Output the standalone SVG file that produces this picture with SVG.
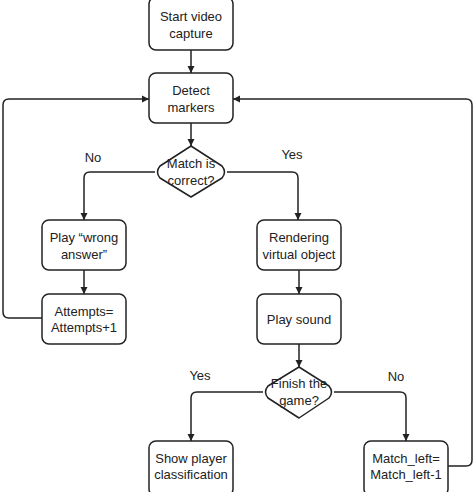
<svg xmlns="http://www.w3.org/2000/svg" width="474" height="492" viewBox="0 0 474 492">
<defs>
<marker id="ah" markerWidth="8" markerHeight="8" refX="7" refY="4" orient="auto" markerUnits="userSpaceOnUse">
<path d="M0,0.5 L7,4 L0,7.5 Z" fill="#222"/>
</marker>
<style>
.box{fill:#fff;stroke:#222;stroke-width:1.5}
.t{font-family:"Liberation Sans",Arial,sans-serif;font-size:13px;fill:#222;text-anchor:middle}
.c{fill:none;stroke:#222;stroke-width:1.5;marker-end:url(#ah)}
.cn{fill:none;stroke:#222;stroke-width:1.5}
</style>
</defs>
<rect width="474" height="492" fill="#fff"/>
<g id="connectors">
<path class="c" d="M191,50 V73"/>
<path class="c" d="M191,123 V146"/>
<path class="c" d="M155,172 H90 Q84,172 84,178 V220"/>
<path class="c" d="M227,172 H292 Q298,172 298,178 V220"/>
<path class="c" d="M84,270 V294"/>
<path class="c" d="M299,270 V294"/>
<path class="c" d="M299,344 V367"/>
<path class="c" d="M263,392 H197 Q191,392 191,398 V441"/>
<path class="c" d="M334,392 H400 Q406,392 406,398 V441"/>
<path class="c" d="M42,318 H9 Q3,318 3,312 V105 Q3,99 9,99 H149"/>
<path class="c" d="M448,466 H466 Q472,466 472,460 V105 Q472,99 466,99 H233"/>
</g>
<g id="lbl-no1"><text class="t" x="93" y="162">No</text></g>
<g id="lbl-yes1"><text class="t" x="292" y="159">Yes</text></g>
<g id="lbl-yes2"><text class="t" x="200" y="380">Yes</text></g>
<g id="lbl-no2"><text class="t" x="396" y="381">No</text></g>
<g id="start">
<rect class="box" x="149" y="-3" width="84" height="53" rx="7"/>
<text class="t" x="191" y="21">Start video</text>
<text class="t" x="191" y="38">capture</text>
</g>
<g id="detect">
<rect class="box" x="149" y="73" width="84" height="50" rx="7"/>
<text class="t" x="191" y="94.5">Detect</text>
<text class="t" x="191" y="111.5">markers</text>
</g>
<g id="match">
<path class="box" d="M191,146 L222,166 Q227,172 222,178 L191,197 L160,178 Q155,172 160,166 Z" stroke-linejoin="round"/>
<text class="t" x="191" y="167.5">Match is</text>
<text class="t" x="191" y="184.5">correct?</text>
</g>
<g id="wrong">
<rect class="box" x="42" y="220" width="84" height="50" rx="7"/>
<text class="t" x="84" y="241.5">Play “wrong</text>
<text class="t" x="84" y="258.5">answer”</text>
</g>
<g id="attempts">
<rect class="box" x="42" y="294" width="84" height="50" rx="7"/>
<text class="t" x="84" y="315.5">Attempts=</text>
<text class="t" x="84" y="332">Attempts+1</text>
</g>
<g id="render">
<rect class="box" x="257" y="220" width="84" height="50" rx="7"/>
<text class="t" x="299" y="241.5">Rendering</text>
<text class="t" x="299" y="258.5">virtual object</text>
</g>
<g id="sound">
<rect class="box" x="257" y="294" width="84" height="50" rx="7"/>
<text class="t" x="299" y="323.5">Play sound</text>
</g>
<g id="finish">
<path class="box" d="M299,367 L329,386 Q334,392 329,398 L299,418 L268,398 Q263,392 268,386 Z" stroke-linejoin="round"/>
<text class="t" x="299" y="387.5">Finish the</text>
<text class="t" x="299" y="404.5">game?</text>
</g>
<g id="show">
<rect class="box" x="149" y="441" width="84" height="55" rx="7"/>
<text class="t" x="191" y="462.5">Show player</text>
<text class="t" x="191" y="478.5">classification</text>
</g>
<g id="matchleft">
<rect class="box" x="364" y="441" width="84" height="55" rx="7"/>
<text class="t" x="406" y="462.5">Match_left=</text>
<text class="t" x="406" y="478.5">Match_left-1</text>
</g>
</svg>
